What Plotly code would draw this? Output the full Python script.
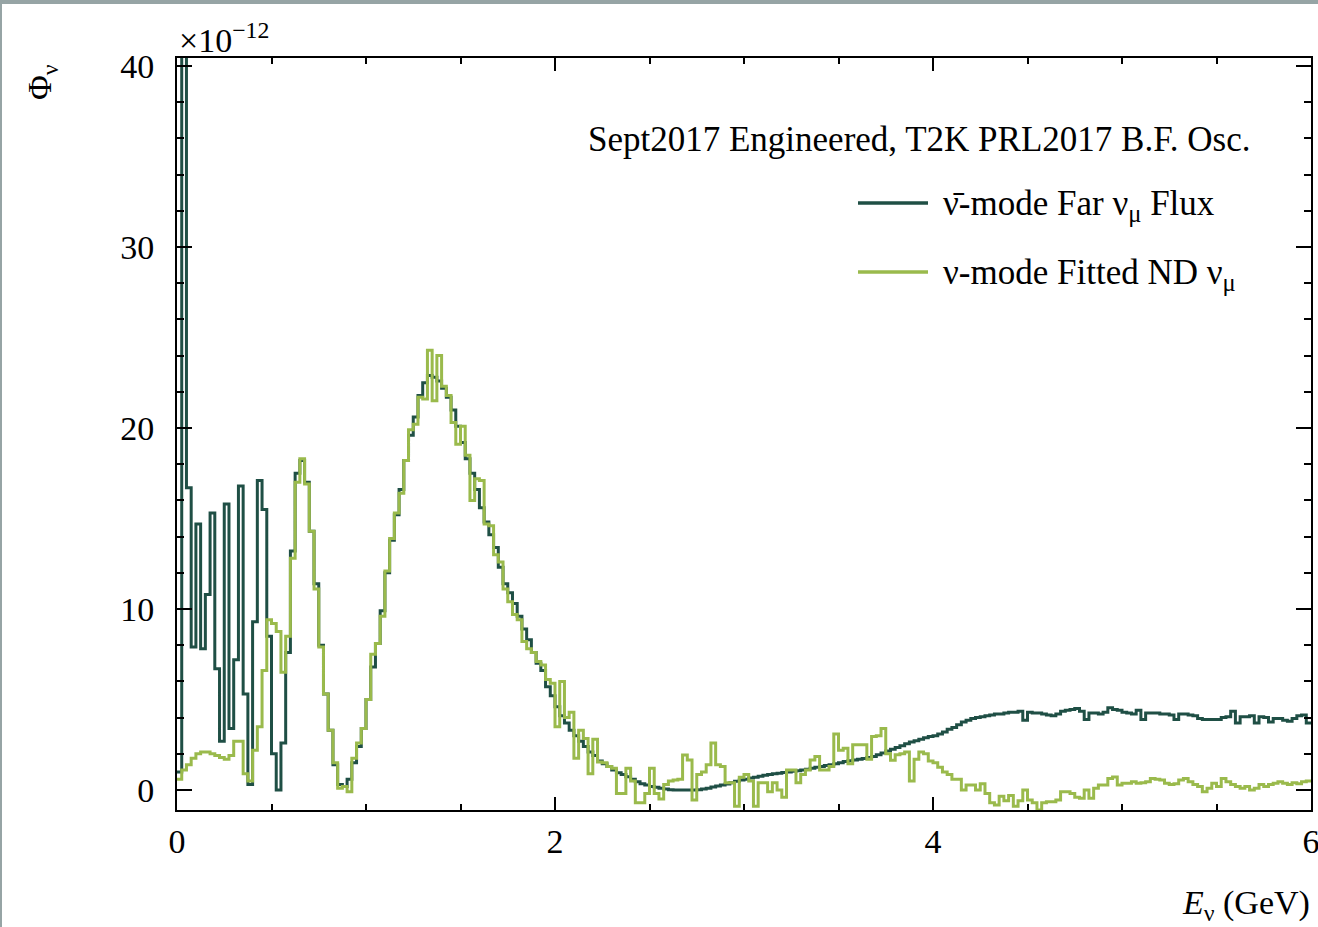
import numpy as np
import plotly.graph_objects as go

# ---------------- data (units of 1e-12) ----------------
BIN_WIDTH = 0.025  # GeV

far_flux = [
    1.0, 60.0, 16.7, 7.9, 14.7, 7.8, 10.8, 15.3, 6.7, 2.7,
    15.8, 3.4, 7.2, 16.8, 5.3, 0.3, 9.3, 17.1, 15.5, 8.5,
    2.0, 0.0, 2.6, 7.6, 13.2, 17.5, 18.2, 17.0, 14.3, 11.4,
    8.0, 5.3, 3.3, 1.4, 0.3, 0.2, 0.6, 1.5, 2.4, 3.4,
    5.0, 6.8, 8.1, 9.9, 12.0, 13.8, 15.2, 16.6, 18.2, 19.6,
    20.6, 21.8, 22.5, 22.9, 22.8, 22.6, 22.2, 21.7, 21.0, 20.1,
    19.2, 18.3, 17.5, 16.6, 15.6, 14.8, 14.1, 13.4, 12.3, 11.4,
    10.9, 10.3, 9.6, 8.9, 8.3, 7.6, 7.0, 6.6, 5.7, 5.2,
    4.6, 4.1, 3.7, 3.3, 3.0, 2.7, 2.4, 2.1, 1.9, 1.6,
    1.45, 1.3, 1.1, 0.95, 0.85, 0.73, 0.6, 0.45, 0.35, 0.28,
    0.2, 0.15, 0.1, 0.05, 0.02, 0.0, 0.0, 0.0, 0.0, 0.0,
    0.02, 0.05, 0.1, 0.17, 0.22, 0.28, 0.33, 0.4, 0.48, 0.55,
    0.6, 0.66, 0.7, 0.76, 0.82, 0.86, 0.9, 0.93, 0.96, 1.0,
    1.03, 1.07, 1.1, 1.15, 1.2, 1.25, 1.3, 1.36, 1.4, 1.45,
    1.5, 1.58, 1.62, 1.66, 1.7, 1.74, 1.8, 1.85, 1.95, 2.05,
    2.15, 2.25, 2.35, 2.45, 2.55, 2.65, 2.72, 2.8, 2.88, 2.95,
    3.0, 3.1, 3.2, 3.35, 3.45, 3.6, 3.75, 3.85, 3.95, 4.0,
    4.05, 4.1, 4.15, 4.2, 4.2, 4.25, 4.3, 4.3, 4.35, 3.85,
    4.3, 4.25, 4.25, 4.2, 4.15, 4.1, 4.2, 4.35, 4.4, 4.45,
    4.5, 4.35, 3.9, 4.25, 4.25, 4.2, 4.3, 4.55, 4.45, 4.4,
    4.3, 4.25, 4.2, 4.4, 3.9, 4.25, 4.25, 4.25, 4.2, 4.2,
    4.15, 3.9, 4.2, 4.2, 4.15, 4.1, 3.95, 3.9, 3.9, 3.9,
    3.9, 4.0, 4.05, 4.35, 3.7, 4.05, 4.05, 4.1, 3.7, 4.05,
    4.0, 3.75, 3.95, 3.95, 3.85, 3.8, 3.95, 4.1, 4.15, 3.7,
]

nd_fit = [
    0.6, 1.1, 1.4, 1.75, 2.0, 2.1, 2.1, 2.0, 1.9, 1.8,
    1.7, 1.9, 2.7, 2.7, 0.9, 0.5, 2.2, 3.5, 6.6, 9.4,
    9.2, 8.75, 6.5, 8.5, 12.8, 17.0, 18.3, 16.9, 14.3, 11.1,
    7.9, 5.3, 3.3, 1.5, 0.1, 0.2, -0.1, 1.75, 2.6, 3.4,
    5.0, 7.5, 8.1, 9.6, 12.1, 13.9, 15.3, 16.4, 18.2, 19.9,
    20.2, 21.7, 21.6, 24.3, 21.5, 24.0, 22.3, 21.8, 20.3, 19.1,
    20.1, 18.5, 16.0, 17.2, 17.1, 14.7, 14.6, 13.0, 12.6, 11.1,
    10.4, 9.7, 9.4, 8.2, 7.8, 7.6, 7.1, 6.9, 6.1, 5.9,
    3.5, 6.0, 4.0, 4.3, 1.75, 3.3, 2.85, 0.9, 2.8, 1.55,
    1.5, 1.3, 1.2, -0.2, -0.2, 1.2, 0.5, -0.7, -0.7, -0.2,
    1.2, -0.2, -0.5, 0.3, 0.5, 0.55, 0.6, 1.93, 1.66, -0.55,
    0.85, 1.0, 1.4, 2.6, 1.4, 1.3, 0.4, 0.4, -0.9, 0.7,
    0.85, 0.5, -0.9, 0.4, 0.4, -0.1, 0.4, 0.0, -0.4, 1.1,
    1.1, 0.4, 0.85, 1.1, 1.66, 1.85, 1.1, 1.1, 1.3, 3.1,
    2.2, 2.3, 1.45, 2.5, 2.5, 2.5, 1.7, 2.95, 3.0, 3.4,
    2.0, 1.65, 1.95, 2.0, 2.1, 0.5, 1.7, 2.1, 2.0, 1.6,
    1.5, 1.25, 1.0, 0.85, 0.6, 0.6, 0.0, 0.27, 0.27, 0.0,
    0.35, -0.2, -0.7, -0.83, -0.35, -0.6, -0.3, -0.9, -0.6, 0.0,
    -0.55, -0.7, -1.1, -0.7, -0.65, -0.65, -0.55, -0.1, -0.1, -0.2,
    -0.4, -0.45, 0.0, -0.45, 0.1, 0.27, 0.27, 0.64, 0.72, 0.27,
    0.37, 0.37, 0.46, 0.37, 0.4, 0.46, 0.64, 0.6, 0.55, 0.37,
    0.3, 0.35, 0.55, 0.64, 0.46, 0.3, 0.2, -0.1, 0.1, 0.37,
    0.2, 0.64, 0.46, 0.3, 0.2, 0.1, 0.2, 0.0, 0.1, 0.3,
    0.2, 0.3, 0.37, 0.46, 0.37, 0.3, 0.4, 0.35, 0.45, 0.5,
]

x_tick_vals = [0, 2, 4, 6]
y_tick_vals = [0, 10, 20, 30, 40]

series_names = ["ν̄-mode Far ν<sub>μ</sub> Flux", "ν-mode Fitted ND ν<sub>μ</sub>"]
series_colors = ["#1f4f45", "#9aba4c"]

header_text = "Sept2017 Engineered, T2K PRL2017 B.F. Osc."

# ---------------- figure ----------------
W, H = 1318, 927
ML, MR, MT, MB = 177, 7, 58, 117
PW, PH = W - ML - MR, H - MT - MB
FONT = "Liberation Serif"
FS = 34


def px2x(px):
    return (px - ML) / PW


def py2y(py):
    return (H - MB - py) / PH


edges = np.arange(len(far_flux) + 1) * BIN_WIDTH

fig = go.Figure()
for vals, name, col in zip([far_flux, nd_fit], series_names, series_colors):
    fig.add_trace(go.Scatter(
        x=edges, y=list(vals) + [vals[-1]],
        mode="lines", line=dict(shape="hv", color=col, width=3),
        name=name, showlegend=False, hoverinfo="skip",
    ))

axis_common = dict(
    showline=True, linecolor="black", linewidth=2, mirror="allticks",
    ticks="inside", tickcolor="black", tickwidth=2,
    showgrid=False, zeroline=False, ticklabeloverflow="allow",
    tickfont=dict(family=FONT, size=FS, color="black"),
)

fig.update_xaxes(
    range=[0, 6], tickvals=x_tick_vals, ticklen=13, ticklabelstandoff=0,
    minor=dict(dtick=0.5, tick0=0, ticks="inside", ticklen=6, tickwidth=2, tickcolor="black"),
    **axis_common,
)
fig.update_yaxes(
    range=[-1.105, 40.44], tickvals=y_tick_vals, ticklen=15, ticklabelstandoff=14,
    minor=dict(dtick=2, tick0=0, ticks="inside", ticklen=7, tickwidth=2, tickcolor="black"),
    **axis_common,
)

annotations = [
    dict(text=header_text, x=px2x(1253), y=py2y(139), xanchor="right", yanchor="middle",
         font=dict(family=FONT, size=35, color="black")),
    dict(text="×10<sup>−12</sup>", x=px2x(177), y=py2y(38), xanchor="left", yanchor="middle",
         font=dict(family=FONT, size=FS, color="black")),
    dict(text="<i>E</i><sub>ν</sub> (GeV)", x=px2x(1312), y=py2y(905), xanchor="right", yanchor="middle",
         font=dict(family=FONT, size=FS, color="black")),
    dict(text="Φ<sub>ν</sub>", x=px2x(42), y=py2y(82), xanchor="center", yanchor="middle",
         textangle=-90, font=dict(family=FONT, size=FS, color="black")),
]
shapes = [
    # page border strips
    dict(type="rect", xref="paper", yref="paper", x0=px2x(0), x1=px2x(W), y0=py2y(4), y1=py2y(0),
         fillcolor="#96a4a5", line=dict(width=0), layer="above"),
    dict(type="rect", xref="paper", yref="paper", x0=px2x(0), x1=px2x(2), y0=py2y(H), y1=py2y(0),
         fillcolor="#96a4a5", line=dict(width=0), layer="above"),
]
legend_rows = [205, 274]
for name, col, row in zip(series_names, series_colors, legend_rows):
    shapes.append(dict(type="line", xref="paper", yref="paper", x0=px2x(858), x1=px2x(928),
                       y0=py2y(row - 2), y1=py2y(row - 2), line=dict(color=col, width=3.5)))
    annotations.append(dict(text=name, x=px2x(941), y=py2y(row), xanchor="left", yanchor="middle",
                            font=dict(family=FONT, size=35, color="black")))

for a in annotations:
    a.update(xref="paper", yref="paper", showarrow=False)

fig.update_layout(
    width=W, height=H,
    margin=dict(l=ML, r=MR, t=MT, b=MB, autoexpand=False),
    paper_bgcolor="white", plot_bgcolor="white",
    annotations=annotations, shapes=shapes,
    showlegend=False,
)

fig.write_html("out.html")
